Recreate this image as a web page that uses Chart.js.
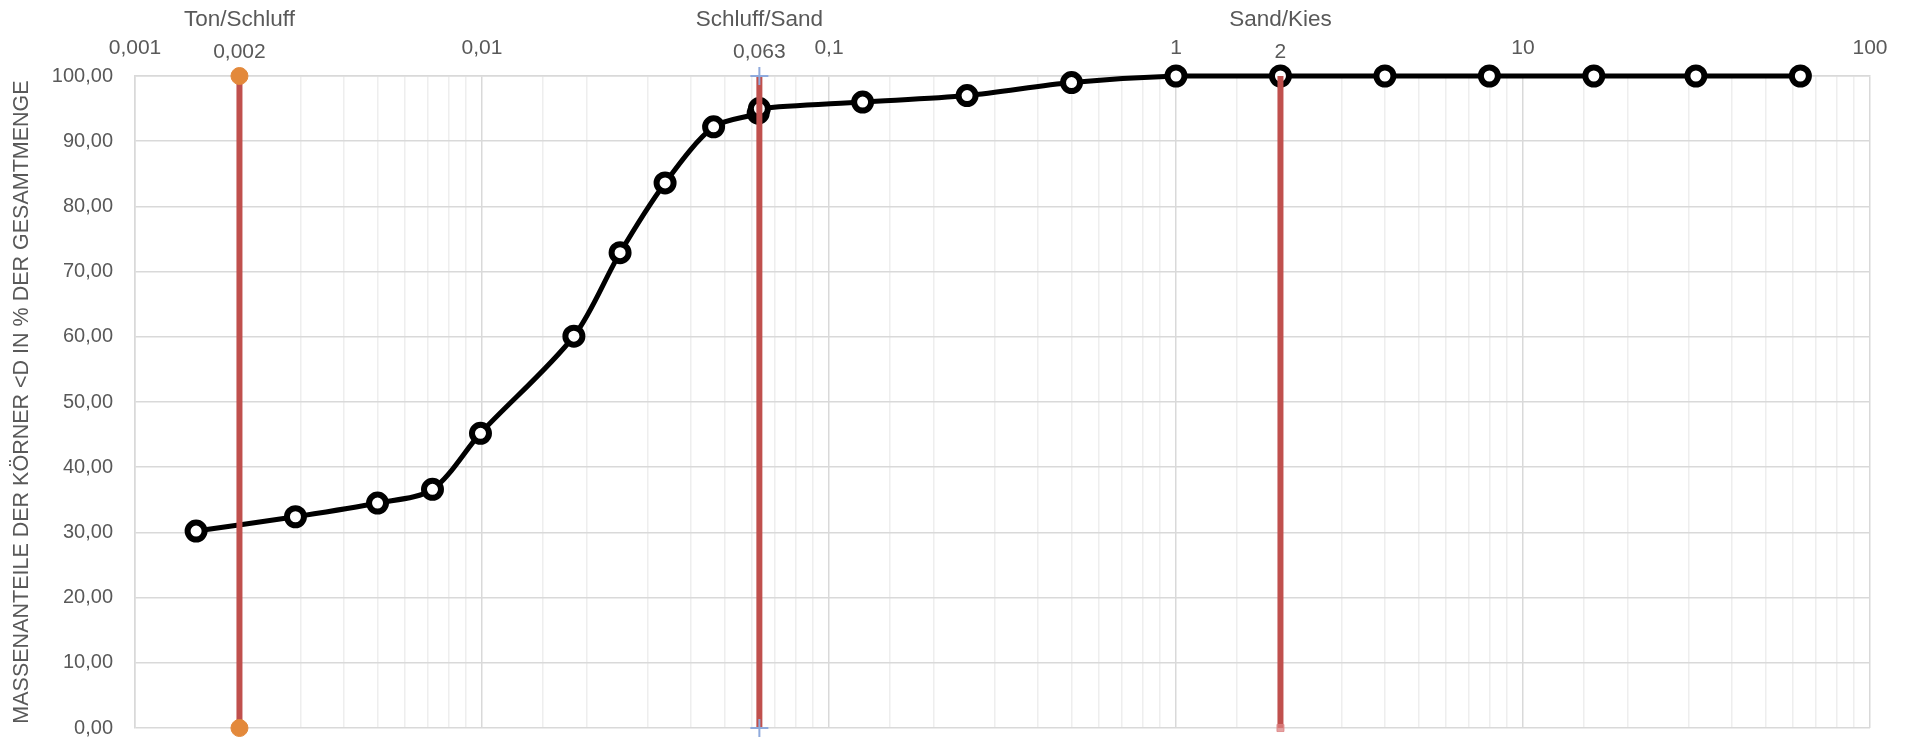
<!DOCTYPE html>
<html>
<head>
<meta charset="utf-8">
<script src="https://cdn.jsdelivr.net/npm/chart.js@4/dist/chart.umd.min.js"></script>
<style>
  body { margin: 0; background: #fff; }
  canvas { display: block; }
</style>
</head>
<body>
<canvas id="chart" width="1910" height="741"></canvas>
<script>
// Korngrößen (mm) und Siebdurchgang (%)
const grainSizes = [0.0015, 0.0029, 0.005, 0.0072, 0.0099, 0.0184, 0.025, 0.0337, 0.0465, 0.0625, 0.063,
    0.125, 0.25, 0.5, 1, 2, 4, 8, 16, 31.5, 63];
const passing = [30.2, 32.4, 34.5, 36.6, 45.2, 60.1, 72.9, 83.6, 92.2, 94.3, 95.0,
    96.0, 97.0, 99.0, 100, 100, 100, 100, 100, 100, 100];

// Grenzen zwischen den Bodenarten
const boundarySizes = [0.002, 0.063, 2];
const boundaryNames = ['Ton/Schluff', 'Schluff/Sand', 'Sand/Kies'];
const boundaryLabels = ['0,002', '0,063', '2'];
const boundaryRange = [100, 0];

// Achsen
const xMin = 0.001;
const xMax = 100;
const yMin = 0;
const yMax = 100;
const yStep = 10;
const yTitle = 'MASSENANTEILE DER KÖRNER <D IN % DER GESAMTMENGE';

const textColor = '#595959';
const fontFamily = "'Liberation Sans', Arial, sans-serif";

function isDecade(v) {
    const l = Math.log10(v);
    return Math.abs(l - Math.round(l)) < 1e-6;
}

function formatNumber(v) {
    return String(v).replace('.', ',');
}

// Marker style for each boundary line
const boundaryPoints = [
    { style: 'circle', radius: [8.5, 8.5], color: '#E3893B', border: '#E3893B', width: 1 },
    { style: 'cross', radius: [9, 9], color: '#8FAADC', border: '#8FAADC', width: 2 },
    { style: 'rect', radius: [0, 5], color: 'rgba(220,130,130,0.75)', border: 'rgba(220,130,130,0.75)', width: 1 }
];

const boundaryDatasets = boundarySizes.map((b, i) => ({
    data: boundaryRange.map(y => ({ x: b, y: y })),
    borderColor: '#C0504D',
    borderWidth: 6,
    pointStyle: boundaryPoints[i].style,
    pointRadius: boundaryPoints[i].radius,
    pointBackgroundColor: boundaryPoints[i].color,
    pointBorderColor: boundaryPoints[i].border,
    pointBorderWidth: boundaryPoints[i].width,
    clip: false,
    order: 0
}));

const curveDataset = {
    data: grainSizes.map((x, i) => ({ x: x, y: passing[i] })),
    borderColor: '#000000',
    borderWidth: 5,
    tension: 0.3,
    pointRadius: 8.5,
    pointBorderWidth: 6,
    pointBackgroundColor: '#ffffff',
    pointBorderColor: '#000000',
    clip: false,
    order: 1
};

// Draws the boundary names and values above the plot
const boundaryLabelPlugin = {
    id: 'boundaryLabels',
    afterDraw(chart) {
        const ctx = chart.ctx;
        const xScale = chart.scales.x;
        ctx.save();
        ctx.fillStyle = textColor;
        ctx.textAlign = 'center';
        ctx.textBaseline = 'alphabetic';
        boundarySizes.forEach((b, i) => {
            const px = xScale.getPixelForValue(b);
            ctx.font = `22.5px ${fontFamily}`;
            ctx.fillText(boundaryNames[i], px, 26);
            ctx.font = `21px ${fontFamily}`;
            ctx.fillText(boundaryLabels[i], px, 58);
        });
        ctx.restore();
    }
};

new Chart(document.getElementById('chart'), {
    type: 'line',
    data: { datasets: [...boundaryDatasets, curveDataset] },
    options: {
        responsive: false,
        animation: false,
        layout: { autoPadding: false, padding: { top: 0, left: 0, right: 40, bottom: 13 } },
        plugins: {
            legend: { display: false },
            tooltip: { enabled: false }
        },
        scales: {
            x: {
                type: 'logarithmic',
                position: 'top',
                min: xMin,
                max: xMax,
                afterFit: (scale) => { scale.height = 76; },
                grid: {
                    drawTicks: false,
                    color: (c) => (c.tick && isDecade(c.tick.value)) ? '#D9D9D9' : '#EEEEEE',
                    lineWidth: 1.5
                },
                border: { color: '#D9D9D9', width: 1.5 },
                ticks: {
                    autoSkip: false,
                    maxRotation: 0,
                    padding: 15,
                    color: textColor,
                    font: { family: fontFamily, size: 21 },
                    callback: (v) => isDecade(v) ? formatNumber(v) : ''
                }
            },
            y: {
                min: yMin,
                max: yMax,
                afterFit: (scale) => {
                    scale.width = 135;
                    scale.paddingTop = 0;
                    scale.paddingBottom = 0;
                },
                grid: { drawTicks: false, color: '#D9D9D9', lineWidth: 1.5 },
                border: { color: '#D9D9D9', width: 1.5 },
                ticks: {
                    stepSize: yStep,
                    padding: 22,
                    color: textColor,
                    font: { family: fontFamily, size: 20 },
                    callback: (v) => v.toFixed(2).replace('.', ',')
                },
                title: {
                    display: true,
                    text: yTitle,
                    color: textColor,
                    padding: { top: 9, bottom: 0 },
                    font: { family: fontFamily, size: 21.5 }
                }
            }
        }
    },
    plugins: [boundaryLabelPlugin]
});
</script>
</body>
</html>
